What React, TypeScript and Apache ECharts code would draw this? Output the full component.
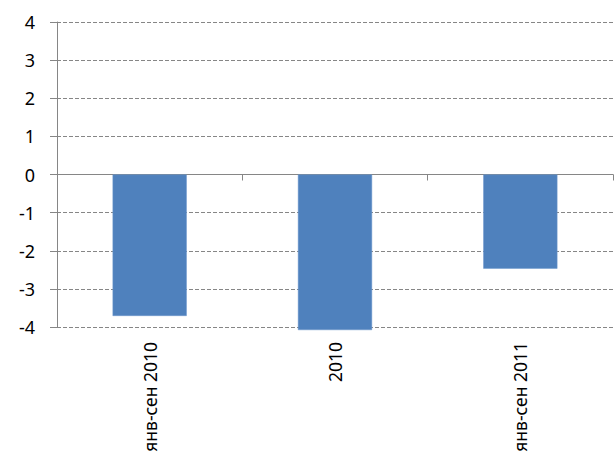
import React, { useEffect, useRef } from "react";
import * as echarts from "echarts";

const categories = ["янв-сен 2010", "2010", "янв-сен 2011"];
const values = [-3.71, -4.08, -2.47];
const yTicks = { min: -4, max: 4, interval: 1 };

export default function App() {
  const ref = useRef<HTMLDivElement>(null);
  useEffect(() => {
    document.body.style.margin = "0";
    const chart = echarts.init(ref.current!, undefined, { renderer: "svg" });
    const font = "'Noto Sans', 'Open Sans', sans-serif";
    chart.setOption({
      animation: false,
      grid: { left: 57, top: 22, right: 2, bottom: 138, containLabel: false },
      xAxis: [
        {
          type: "category",
          data: categories,
          axisLine: { onZero: true, lineStyle: { color: "#868686", width: 1 } },
          axisTick: { show: true, length: 6, lineStyle: { color: "#868686" } },
          axisLabel: { show: false },
          splitLine: { show: false },
        },
        {
          type: "category",
          data: categories,
          position: "bottom",
          axisLine: { show: false, onZero: false },
          axisTick: { show: false },
          axisLabel: {
            show: true,
            rotate: 90,
            margin: 15,
            color: "#000",
            fontSize: 17.5,
            fontFamily: font,
          },
          splitLine: { show: false },
        },
      ],
      yAxis: {
        type: "value",
        min: yTicks.min,
        max: yTicks.max,
        interval: yTicks.interval,
        axisLine: { show: true, lineStyle: { color: "#868686", width: 1 } },
        axisTick: { show: true, length: 7, lineStyle: { color: "#868686" } },
        axisLabel: { color: "#000", fontSize: 18, fontFamily: font, margin: 22 },
        splitLine: { show: true, lineStyle: { color: "#868686", type: [4, 2], width: 1 } },
      },
      series: [
        {
          type: "bar",
          xAxisIndex: 0,
          data: values,
          barWidth: "40%",
          clip: false,
          itemStyle: { color: "#4F81BD", borderColor: "#6A96CC", borderWidth: 0.5 },
        },
      ],
    });
    return () => chart.dispose();
  }, []);
  return <div ref={ref} style={{ width: 615, height: 465 }} />;
}
